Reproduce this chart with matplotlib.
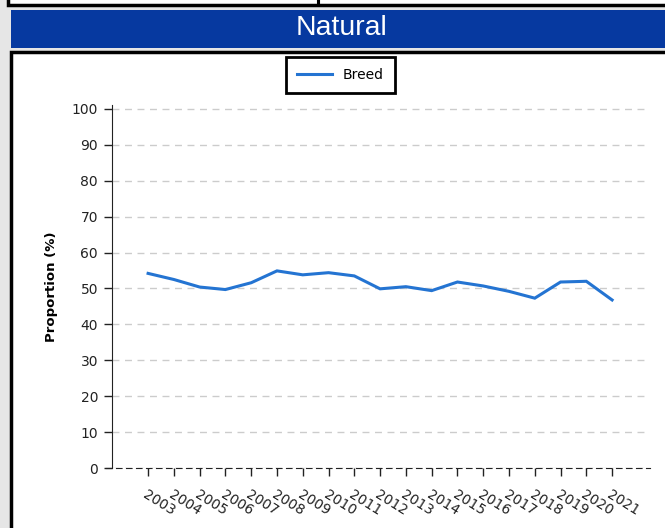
import matplotlib.pyplot as plt
from matplotlib.patches import Rectangle

# Proportion of natural-bred animals per year
years = [2003, 2004, 2005, 2006, 2007, 2008, 2009, 2010, 2011, 2012,
         2013, 2014, 2015, 2016, 2017, 2018, 2019, 2020, 2021]
breed = [54.2, 52.5, 50.4, 49.7, 51.6, 54.9, 53.8, 54.4, 53.5, 49.9,
         50.5, 49.4, 51.8, 50.7, 49.2, 47.3, 51.8, 52.0, 46.8]
y_ticks = [0, 10, 20, 30, 40, 50, 60, 70, 80, 90, 100]

W, H = 665, 528
fig = plt.figure(figsize=(W / 100, H / 100), dpi=100, facecolor="#e6e6e6")


def px_rect(x0, y0, x1, y1, **kw):
    # rectangle given in pixel coords measured from the top-left corner
    r = Rectangle((x0 / W, 1 - y1 / H), (x1 - x0) / W, (y1 - y0) / H,
                  transform=fig.transFigure, zorder=-5, **kw)
    fig.patches.append(r)


# bottom edge of the panel above
px_rect(8, -20, 700, 4.5, facecolor="white", edgecolor="black", linewidth=2.5)
px_rect(318, -20, 318.5, 4.5, facecolor="black", edgecolor="black", linewidth=1.5)
# title band
px_rect(11, 10, 700, 48, facecolor="#0639a0", edgecolor="none")
fig.text(342 / W, 1 - 28 / H, "Natural", color="white",
         fontsize=20.5, family="Liberation Sans", ha="center", va="center")
# chart panel
px_rect(11, 52, 700, 560, facecolor="white", edgecolor="black", linewidth=2.5)

ax = fig.add_axes([112 / W, 60 / H, (650 - 112) / W, (468 - 105) / H])
ax.set_facecolor("none")
ax.plot(years, breed, color="#2474d2", linewidth=2.2, label="Breed",
        solid_joinstyle="miter")

ax.set_xlim(2001.6, 2022.47)
ax.set_ylim(0, 101.1)
ax.set_yticks(y_ticks)
ax.set_xticks(years)
ax.set_xticklabels([str(y) for y in years], rotation=-32, ha="left",
                   va="top", rotation_mode="anchor", fontsize=10, color="#222222")
ax.tick_params(axis="y", labelsize=10, length=6, width=1, colors="#222222", pad=4)
ax.tick_params(axis="x", length=6, width=1, colors="#222222", pad=8)

ax.grid(axis="y", color="#cccccc", linestyle=(0, (5, 4)), linewidth=1)
ax.set_axisbelow(True)
for side in ("top", "right"):
    ax.spines[side].set_visible(False)
ax.spines["left"].set_color("#222222")
ax.spines["bottom"].set_color("#222222")
ax.spines["bottom"].set_linestyle((0, (5, 4)))
ax.spines["bottom"].set_bounds(2001.35, 2022.47)

ax.set_ylabel("Proportion (%)", fontsize=9.5, fontweight="bold",
              labelpad=10, color="black")

leg = ax.legend(loc="upper center", bbox_to_anchor=(340.5 / W, 1 - 57 / H),
                bbox_transform=fig.transFigure, fontsize=10, frameon=True,
                fancybox=False, framealpha=1, borderpad=0.8, borderaxespad=0,
                handlelength=2.5)
leg.get_frame().set_edgecolor("black")
leg.get_frame().set_linewidth(2)

fig.savefig("out.png", dpi=100, facecolor=fig.get_facecolor())
